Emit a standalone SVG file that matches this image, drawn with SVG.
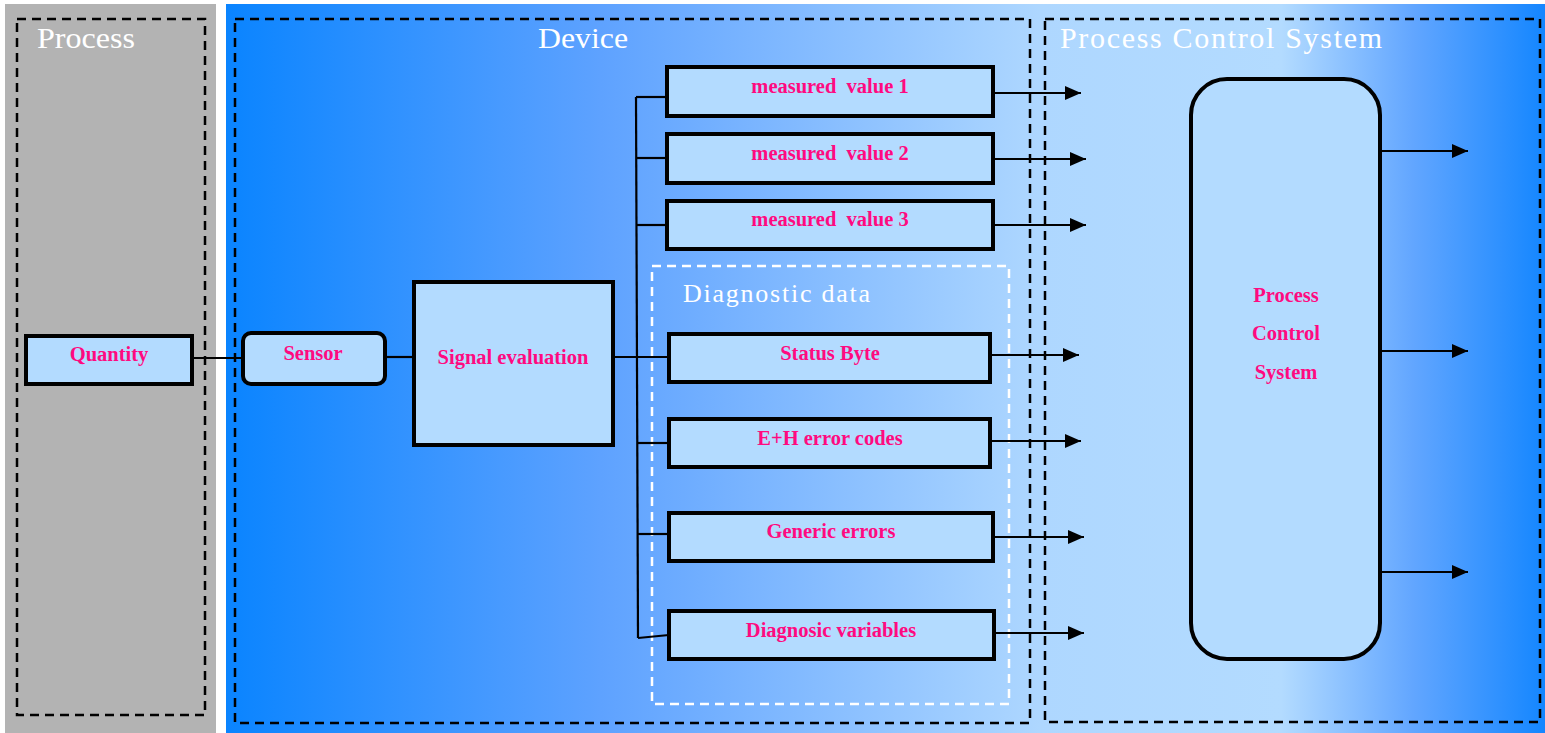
<svg xmlns="http://www.w3.org/2000/svg" width="1545" height="733" viewBox="0 0 1545 733">
<defs>
<linearGradient id="bg" x1="226" y1="0" x2="1545" y2="0" gradientUnits="userSpaceOnUse">
<stop offset="0" stop-color="#0a84ff"/>
<stop offset="0.284" stop-color="#5ea2ff"/>
<stop offset="0.617" stop-color="#aed7ff"/>
<stop offset="0.8" stop-color="#b3dbff"/>
<stop offset="0.9" stop-color="#62a6ff"/>
<stop offset="1" stop-color="#1486ff"/>
</linearGradient>
<marker id="ah" viewBox="0 0 16 14" refX="16" refY="7" markerWidth="16" markerHeight="14" markerUnits="userSpaceOnUse" orient="auto">
<path d="M0,0 L16,7 L0,14 z" fill="#000"/>
</marker>
</defs>
<style>
.box{fill:#b3dbff;stroke:#000;stroke-width:4}
.lbl{font-family:"Liberation Serif","DejaVu Serif",serif;font-weight:bold;font-size:20.5px;fill:#ff0a80;text-anchor:middle;white-space:pre}
.ttl{font-family:"Liberation Serif","DejaVu Serif",serif;font-size:30px;fill:#fff}
.dash{fill:none;stroke:#000;stroke-width:2.5;stroke-dasharray:9,6}
.wdash{fill:none;stroke:#fff;stroke-width:2.5;stroke-dasharray:9,6}
.ln{fill:none;stroke:#000;stroke-width:2.2}
.ar{fill:none;stroke:#000;stroke-width:2.2;marker-end:url(#ah)}
</style>
<rect x="0" y="0" width="1545" height="733" fill="#fff"/>
<rect x="5" y="4" width="211" height="729" fill="#b3b3b3"/>
<rect x="226" y="4" width="1319" height="729" fill="url(#bg)"/>
<g id="region-process">
<rect class="dash" x="17" y="19" width="188" height="696"/>
<text class="ttl" x="37" y="48" textLength="98" lengthAdjust="spacingAndGlyphs">Process</text>
</g>
<g id="region-device">
<rect class="dash" x="235" y="19" width="795" height="704"/>
<text class="ttl" x="538" y="48" textLength="90" lengthAdjust="spacingAndGlyphs">Device</text>
</g>
<g id="region-pcs">
<rect class="dash" x="1045" y="19" width="495" height="703"/>
<text class="ttl" x="1060" y="48" textLength="322" lengthAdjust="spacing">Process Control System</text>
</g>
<g id="region-diag">
<rect class="wdash" x="652" y="266" width="357" height="438"/>
<text class="ttl" x="683" y="302" style="font-size:26px" textLength="187" lengthAdjust="spacing">Diagnostic data</text>
</g>
<g id="connectors">
<line class="ln" x1="192" y1="358" x2="242" y2="358"/>
<line class="ln" x1="385" y1="357" x2="414" y2="357"/>
<line class="ln" x1="613" y1="357" x2="667" y2="357"/>
<line class="ln" x1="636" y1="97" x2="638" y2="638"/>
<line class="ln" x1="636" y1="97" x2="667" y2="97"/>
<line class="ln" x1="636" y1="158" x2="667" y2="158"/>
<line class="ln" x1="637" y1="225" x2="667" y2="225"/>
<line class="ln" x1="637" y1="443" x2="669" y2="443"/>
<line class="ln" x1="638" y1="534" x2="669" y2="534"/>
<line class="ln" x1="638" y1="638" x2="669" y2="635"/>
<line class="ar" x1="993" y1="93" x2="1081" y2="93"/>
<line class="ar" x1="995" y1="159" x2="1086" y2="159"/>
<line class="ar" x1="995" y1="225" x2="1086" y2="225"/>
<line class="ar" x1="990" y1="355" x2="1079" y2="355"/>
<line class="ar" x1="990" y1="441" x2="1081" y2="441"/>
<line class="ar" x1="993" y1="537" x2="1084" y2="537"/>
<line class="ar" x1="995" y1="633" x2="1084" y2="633"/>
<line class="ar" x1="1380" y1="151" x2="1468" y2="151"/>
<line class="ar" x1="1380" y1="351" x2="1468" y2="351"/>
<line class="ar" x1="1380" y1="572" x2="1468" y2="572"/>
</g>
<g id="node-quantity">
<rect class="box" x="26" y="336" width="166" height="48"/>
<text class="lbl" x="109" y="361">Quantity</text>
</g>
<g id="node-sensor">
<rect class="box" x="243" y="333" width="142" height="51" rx="8"/>
<text class="lbl" x="313" y="360">Sensor</text>
</g>
<g id="node-signal">
<rect class="box" x="414" y="282" width="199" height="163"/>
<text class="lbl" x="513" y="364">Signal evaluation</text>
</g>
<g id="node-mv1">
<rect class="box" x="667" y="67" width="326" height="49"/>
<text class="lbl" x="830" y="93" xml:space="preserve">measured  value 1</text>
</g>
<g id="node-mv2">
<rect class="box" x="667" y="134" width="326" height="49"/>
<text class="lbl" x="830" y="160" xml:space="preserve">measured  value 2</text>
</g>
<g id="node-mv3">
<rect class="box" x="667" y="201" width="326" height="48"/>
<text class="lbl" x="830" y="226" xml:space="preserve">measured  value 3</text>
</g>
<g id="node-status">
<rect class="box" x="669" y="334" width="321" height="48"/>
<text class="lbl" x="830" y="360">Status Byte</text>
</g>
<g id="node-eh">
<rect class="box" x="669" y="419" width="321" height="48"/>
<text class="lbl" x="830" y="445">E+H error codes</text>
</g>
<g id="node-generic">
<rect class="box" x="669" y="513" width="324" height="48"/>
<text class="lbl" x="831" y="538">Generic errors</text>
</g>
<g id="node-diagvar">
<rect class="box" x="669" y="611" width="325" height="48"/>
<text class="lbl" x="831" y="637">Diagnosic variables</text>
</g>
<g id="node-pcs">
<rect class="box" x="1191" y="79" width="189" height="580" rx="36"/>
<text class="lbl" x="1286" y="302">Process</text>
<text class="lbl" x="1286" y="340">Control</text>
<text class="lbl" x="1286" y="379">System</text>
</g>
</svg>
